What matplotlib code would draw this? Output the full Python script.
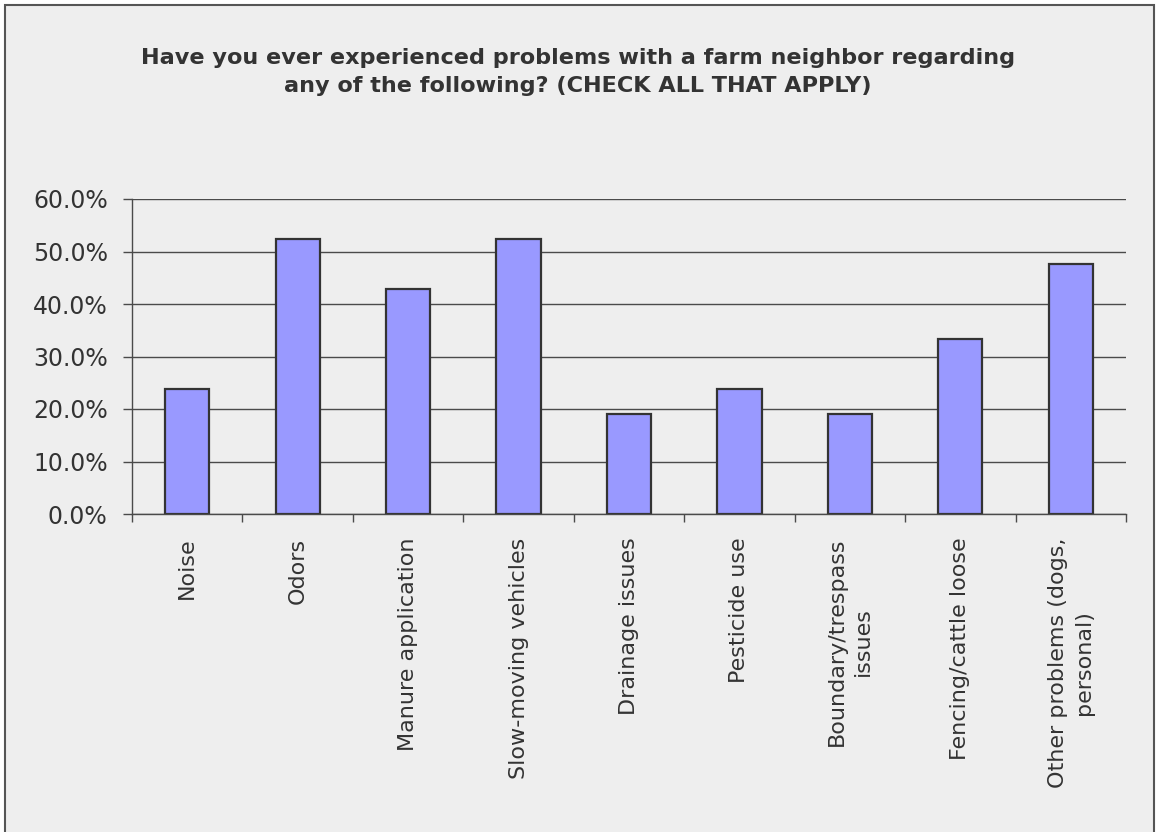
import matplotlib
matplotlib.use("Agg")
import matplotlib.pyplot as plt
from matplotlib.ticker import FuncFormatter
from matplotlib.patches import Rectangle

categories = [
    "Noise",
    "Odors",
    "Manure application",
    "Slow-moving vehicles",
    "Drainage issues",
    "Pesticide use",
    "Boundary/trespass\nissues",
    "Fencing/cattle loose",
    "Other problems (dogs,\npersonal)",
]
shares = [0.238, 0.524, 0.429, 0.524, 0.190, 0.238, 0.190, 0.333, 0.476]
y_ticks = [0.0, 0.1, 0.2, 0.3, 0.4, 0.5, 0.6]

title = ("Have you ever experienced problems with a farm neighbor regarding\n"
         "any of the following? (CHECK ALL THAT APPLY)")

bg = "#eeeeee"
text_color = "#333333"
line_color = "#4a4a4a"

fig = plt.figure(figsize=(11.56, 8.32), dpi=100, facecolor="white")
# chart area frame
fig.patches.append(Rectangle((5 / 1156, -0.01), 1149 / 1156, 1 - 5 / 832 + 0.01,
                             transform=fig.transFigure, facecolor=bg,
                             edgecolor="#555555", linewidth=1.5, zorder=-1))

ax = fig.add_axes([132 / 1156, 1 - 514 / 832, 994 / 1156, 315 / 832])
ax.set_facecolor(bg)

x = list(range(len(categories)))
ax.bar(x, shares, width=0.4, color="#9999ff", edgecolor="#333333", linewidth=1.6, zorder=3)

ax.set_xlim(-0.5, len(categories) - 0.5)
ax.set_ylim(y_ticks[0], y_ticks[-1])
ax.set_yticks(y_ticks)
ax.yaxis.set_major_formatter(FuncFormatter(lambda v, _: f"{v * 100:.1f}%"))
ax.grid(axis="y", color=line_color, linewidth=1.0, zorder=1)

ax.set_xticks(x)
ax.set_xticklabels(categories, rotation=90, ha="center", va="top",
                   fontsize=16, color=text_color, multialignment="center",
                   linespacing=1.35)
ax.set_xticks([i - 0.5 for i in range(len(categories) + 1)], minor=True)
ax.tick_params(axis="x", which="major", length=0, pad=17)
ax.tick_params(axis="x", which="minor", length=6, width=1, color=line_color, direction="out")
ax.tick_params(axis="y", length=6.5, width=1, color=line_color, direction="out",
               labelsize=17, labelcolor=text_color, pad=11)

for side in ("top", "right"):
    ax.spines[side].set_visible(False)
for side in ("left", "bottom"):
    ax.spines[side].set_color(line_color)
    ax.spines[side].set_linewidth(1.0)
    ax.spines[side].set_zorder(4)

fig.text(578 / 1156, 1 - 72 / 832, title, ha="center", va="center",
         fontsize=16.1, fontweight="bold", color=text_color, linespacing=1.5)

fig.savefig("out.png", dpi=100, facecolor="white")
